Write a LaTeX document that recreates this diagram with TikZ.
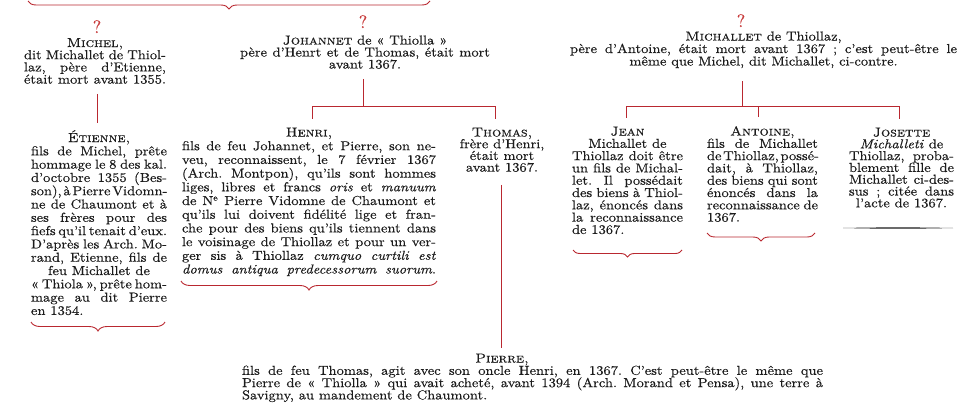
\documentclass[tikz,border=0pt]{standalone}
\usepackage{graphicx}
\usepackage{fontspec}
\setmainfont{lmroman10-regular.otf}[
  Ligatures=TeX, FakeBold=0.35,
  ItalicFont=lmroman10-italic.otf, ItalicFeatures={FakeBold=0.35},
  SmallCapsFont=lmromancaps10-regular.otf, SmallCapsFeatures={FakeBold=0.35}]
\usetikzlibrary{decorations.pathreplacing,calc}
\definecolor{treered}{RGB}{185,40,48}
\definecolor{qred}{RGB}{200,60,60}
\definecolor{ink}{RGB}{28,28,28}
\newcommand\LJ[1]{\hbox to\hsize{\spaceskip=0.12em plus 10em\relax#1}}
\newcommand\LC[1]{\hbox to\hsize{\hfil#1\hfil}}
\newcommand\LL[1]{\hbox to\hsize{#1\hfil}}
\newcommand\blockbox[3]{\scalebox{1.115}[1]{\vtop{\hsize=\dimexpr#1pt/1115*1000\relax\baselineskip=#2pt\lineskiplimit=-100pt\parindent=0pt\frenchspacing #3}}}
\tikzset{
  txt/.style={inner sep=0pt, outer sep=0pt, anchor=base west, text=ink, font=\fontsize{13}{13}\selectfont},
  qm/.style={inner sep=0pt, anchor=base, text=qred, font=\fontsize{18}{18}\selectfont},
  tree/.style={draw=treered, line width=0.9pt},
  brc/.style={draw=treered, line width=0.9pt, decorate, decoration={brace, mirror, amplitude=#1}},
  brc/.default=8pt
}
\begin{document}
\begin{tikzpicture}[x=1pt,y=-1pt]
\useasboundingbox (0,0) rectangle (966,407);

% top brace
\draw[brc=8pt] (28,1) -- (430,1);

% question marks
\node[qm] (q1) at (97,33) {?};
\node[qm] (q2) at (363,28) {?};
\node[qm] (q3) at (741,27) {?};

% generation 1
\node[txt] (michel) at (24,47) {\blockbox{142}{12.2}{%
\LC{\textsc{Michel,}}
\LJ{dit Michallet de Thiol-}
\LJ{laz, père d'Etienne,}
\LJ{était mort avant 1355.}}};

\node[txt] (johannet) at (240,44.5) {\blockbox{250}{12}{%
\LC{\textsc{Johannet} de « Thiolla »}
\LJ{père d'Henrt et de Thomas, était mort}
\LC{avant 1367.}}};

\node[txt] (michallet) at (570,40.5) {\blockbox{387}{12.5}{%
\LC{\textsc{Michallet} de Thiollaz,}
\LJ{père d'Antoine, était mort avant 1367 ; c'est peut-être le}
\LC{même que Michel, dit Michallet, ci-contre.}}};

% generation 2
\node[txt] (etienne) at (31,142) {\blockbox{136}{13.3}{%
\LC{\textsc{Étienne,}}
\LJ{fils de Michel, prête}
\LJ{hommage le 8 des kal.}
\LJ{d'octobre 1355 (Bes-}
\LJ{son), à Pierre Vidomn-}
\LJ{ne de Chaumont et à}
\LJ{ses frères pour des}
\LJ{fiefs qu'il tenait d'eux.}
\LJ{D'après les Arch. Mo-}
\LJ{rand, Etienne, fils de}
\LC{feu Michallet de}
\LJ{« Thiola », prête hom-}
\LJ{mage au dit Pierre}
\LL{en 1354.}}};

\node[txt] (henri) at (182,136.5) {\blockbox{254}{13.7}{%
\LC{\textsc{Henri,}}
\LJ{fils de feu Johannet, et Pierre, son ne-}
\LJ{veu, reconnaissent, le 7 février 1367}
\LJ{(Arch. Montpon), qu'ils sont hommes}
\LJ{liges, libres et francs \textit{oris} et \textit{manuum}}
\LJ{de N\textsuperscript{e} Pierre Vidomne de Chaumont et}
\LJ{qu'ils lui doivent fidélité lige et fran-}
\LJ{che pour des biens qu'ils tiennent dans}
\LJ{le voisinage de Thiollaz et pour un ver-}
\LJ{ger sis à Thiollaz \textit{cumquo curtili est}}
\LJ{\textit{domus antiqua predecessorum suorum}.}}};

\node[txt, anchor=base] (thomas) at (502,136.5) {\blockbox{92}{11.7}{%
\LC{\textsc{Thomas,}}
\LC{frère d'Henri,}
\LC{était mort}
\LC{avant 1367.}}};

\node[txt] (jean) at (572,135.5) {\blockbox{111}{12.3}{%
\LC{\textsc{Jean}}
\LC{Michallet de}
\LJ{Thiollaz doit être}
\LJ{un fils de Michal-}
\LJ{let. Il possédait}
\LJ{des biens à Thiol-}
\LJ{laz, énoncés dans}
\LJ{la reconnaissance}
\LL{de 1367.}}};

\node[txt] (antoine) at (707,135.5) {\blockbox{111}{12.3}{%
\LC{\textsc{Antoine,}}
\LJ{fils de Michallet}
\LJ{de Thiollaz, possé-}
\LJ{dait, à Thiollaz,}
\LJ{des biens qui sont}
\LJ{énoncés dans la}
\LJ{reconnaissance de}
\LL{1367.}}};

\node[txt] (josette) at (849,136.5) {\blockbox{105}{11.8}{%
\LC{\textsc{Josette}}
\LC{\textit{Michalleti} de}
\LJ{Thiollaz, proba-}
\LJ{blement fille de}
\LJ{Michallet ci-des-}
\LJ{sus ; citée dans}
\LC{l'acte de 1367.}}};

% generation 3
\node[txt] (pierre) at (242,362.5) {\blockbox{581}{12.3}{%
\hbox to\hsize{\hskip 233.2pt\makebox[0pt]{\textsc{Pierre,}}\hfil}
\LJ{fils de feu Thomas, agit avec son oncle Henri, en 1367. C'est peut-être le même que}
\LJ{Pierre de « Thiolla » qui avait acheté, avant 1394 (Arch. Morand et Pensa), une terre à}
\LL{Savigny, au mandement de Chaumont.}}};

% connectors
\draw[tree] ($(michel.south)+(2,10)$) -- ($(michel.south |- etienne.north)+(2,-7)$);

\coordinate (jbar) at ($(johannet.south)+(-2,38)$);
\draw[tree] ($(johannet.south)+(-2,10)$) -- (jbar);
\draw[tree] ($(henri.north)+(3,-9)$) |- (jbar) -| ($(thomas.north)+(-7,-9)$);

\coordinate (mbar) at ($(michallet.south)+(-21.5,38)$);
\draw[tree] ($(michallet.south)+(-21.5,13)$) -- (mbar);
\draw[tree] ($(jean.north)+(-1,-9)$) |- (mbar) -| ($(josette.north)+(-2,-9)$);
\draw[tree] ($(antoine.north)+(-4,-9)$) -- ($(antoine.north |- mbar)+(-4,0)$);

\draw[tree] ($(thomas.south)+(-1,13)$) -- ($(thomas.south |- pierre.north)+(-1,-6)$);

% braces under blocks
\draw[brc=9pt] (31,322) -- (165,322);
\draw[brc=9pt] (181,281) -- (437,281);
\draw[brc=7pt] (573,250) -- (682,250);
\draw[brc=8pt] (707,233) -- (815,233);
\fill[ink] (843,228) .. controls (880,227.2) and (916,227.2) .. (953,228) .. controls (916,228.9) and (880,228.9) .. (843,228) -- cycle;
\end{tikzpicture}
\end{document}
